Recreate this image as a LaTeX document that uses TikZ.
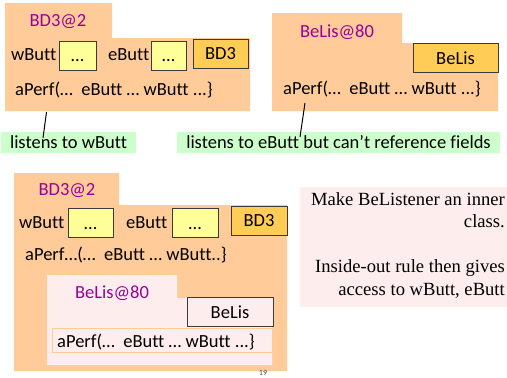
\documentclass[tikz,border=0pt]{standalone}
\usepackage{fontspec}
\setmainfont[Ligatures=NoCommon]{Carlito}
\newfontfamily\noteserif{Liberation Serif}
\definecolor{peach}{HTML}{FFCC99}
\definecolor{gold}{HTML}{FFCC55}
\definecolor{paleyel}{HTML}{FFFF99}
\definecolor{mint}{HTML}{CCFFCC}
\definecolor{objname}{HTML}{990099}
\definecolor{blush}{HTML}{FDEDEC}
\definecolor{edge}{HTML}{3A3A3A}
\tikzset{
  txt/.style={inner sep=0pt, font=\fontsize{18.5}{21}\selectfont},
  oname/.style={txt, text=objname},
  fieldbox/.style={draw=edge, fill=paleyel, line width=0.8pt, minimum width=#1, minimum height=29pt, inner sep=0pt, text height=14pt, text depth=2pt, font=\fontsize{18.5}{21}\selectfont},
  classbox/.style={draw=edge, fill=gold, line width=0.8pt, minimum width=#1, minimum height=29pt, inner sep=0pt, font=\fontsize{18.5}{21}\selectfont},
  note/.style={fill=mint, minimum height=21pt, inner sep=0pt, font=\fontsize{18.5}{21}\selectfont},
  pointer/.style={draw=black, line width=1pt},
}
\begin{document}
\begin{tikzpicture}[x=1pt,y=-1pt]
\useasboundingbox (0,0) rectangle (507,378);
\fill[white] (0,0) rectangle (507,378);

% --- object BD3@2 (top left) ---
\fill[peach] (5,3) -- (112,3) -- (112,38) -- (250,38) -- (250,111) -- (5,111) -- cycle;
\node[oname] (o1) at (58,22) {BD3@2};
\node[txt, anchor=west] (o1w) at (11,55) {wButt};
\node[fieldbox=37pt] (o1wb) at (77.5,55.5) {…};
\node[txt, anchor=west] (o1e) at (108,55) {eButt};
\node[fieldbox=35pt] (o1eb) at (168.5,55.5) {…};
\node[classbox=55pt] (o1c) at (220.5,53.5) {BD3};
\node[txt, anchor=west] (o1m) at (15,90) {aPerf(…\ \ eButt … wButt ...\}};

% --- object BeLis@80 (top right) ---
\fill[peach] (272,13) -- (402,13) -- (402,43) -- (498,43) -- (498,111) -- (272,111) -- cycle;
\node[oname] (o2) at (337,32) {BeLis@80};
\node[classbox=85pt] (o2c) at (455.5,58) {BeLis};
\node[txt, anchor=west] (o2m) at (283,89) {aPerf(…\ \ eButt … wButt ...\}};

% --- notes with pointers ---
\node[note, minimum width=135pt] (n1) at (68.5,142.5) {listens to wButt};
\node[note, minimum width=323pt] (n2) at (338.5,142.5) {listens to eButt but can’t reference fields};
\coordinate (p1) at (46.5,112);
\coordinate (p2) at (305,103);
\draw[pointer] (p1) -- (43,138);
\draw[pointer] (p2) -- (300,137);

% --- object BD3@2 with inner BeLis@80 (bottom left) ---
\fill[peach] (14,173) -- (119,173) -- (119,205) -- (287,205) -- (287,371) -- (14,371) -- cycle;
\node[oname] (o3) at (67,191) {BD3@2};
\node[txt, anchor=west] (o3w) at (19,223) {wButt};
\node[fieldbox=45pt] (o3wb) at (90.5,223) {…};
\node[txt, anchor=west] (o3e) at (126,223) {eButt};
\node[fieldbox=46pt] (o3eb) at (195,223) {…};
\node[classbox=56pt] (o3c) at (259,221) {BD3};
\node[txt, anchor=west] (o3m) at (25,255) {aPerf…(…\ \ eButt … wButt..\}};

\fill[blush] (47,275) -- (177,275) -- (177,298) -- (272,298) -- (272,365) -- (47,365) -- cycle;
\node[oname] (o4) at (112,293) {BeLis@80};
\node[classbox=86pt, fill=blush] (o4c) at (230,312) {BeLis};
\node[draw=peach, fill=blush, line width=0.8pt, minimum width=220pt, minimum height=24pt, inner sep=0pt] (o4row) at (162,340) {};
\node[txt, anchor=west] (o4m) at (57,342) {aPerf(…\ \ eButt … wButt ...\}};

% --- page number ---
\node[inner sep=0pt, text=black!70, font=\fontsize{8}{9}\selectfont] (pg) at (263,373) {19};

% --- explanation box ---
\fill[blush] (300,187) rectangle (507,307);
\node[inner sep=0pt, anchor=north east, align=right, font=\noteserif\fontsize{18.6}{22.5}\selectfont] (expl) at (505,192)
  {Make BeListener an inner\\class.\\[22.5pt]Inside-out rule then gives\\access to wButt, eButt};
\end{tikzpicture}
\end{document}
